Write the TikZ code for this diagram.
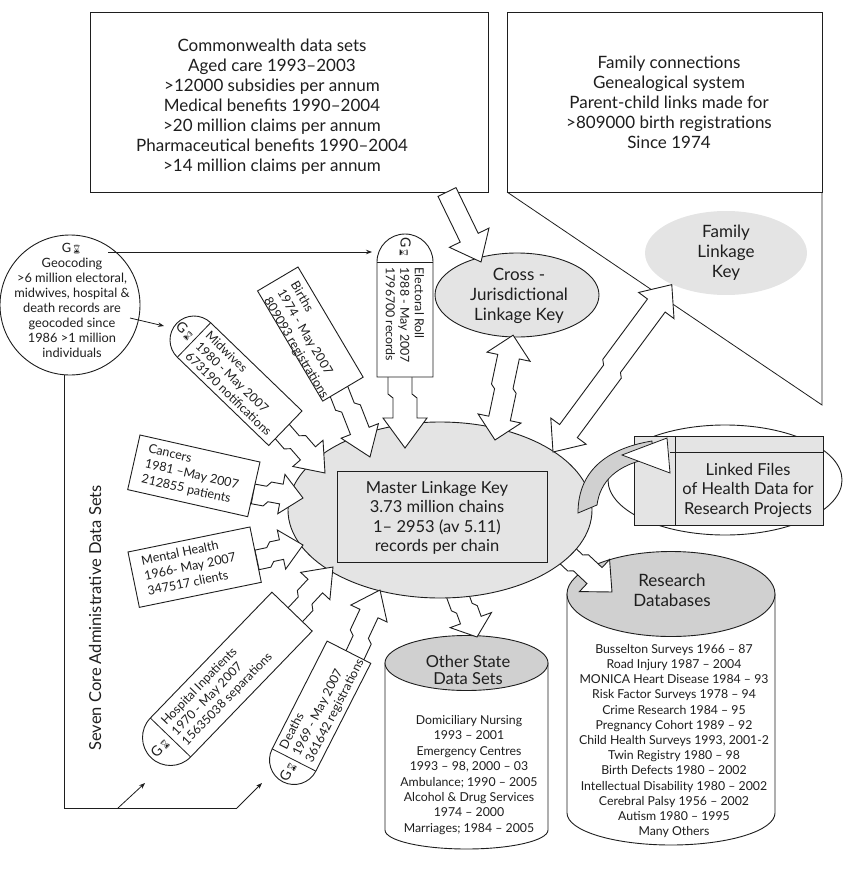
\documentclass[tikz,border=0pt]{standalone}
\usepackage{fontspec}
\setmainfont{Lato}
\newfontfamily\emojifont{Noto Emoji}
\usetikzlibrary{arrows.meta,shapes.geometric}
\definecolor{ink}{HTML}{1E1E1E}
\definecolor{lgray}{HTML}{E4E4E4}
\definecolor{mgray}{HTML}{D0D0D0}
\newcommand\hg{{\emojifont\fontsize{8.5}{8.5}\selectfont ⌛}}
% fat hollow arrow from coordinate #1 to coordinate #2
% #3 half shaft, #4 half head, #5 head length, #6 jog position, #7 jog offset
\newcommand\fatarrow[7]{%
  \pgfmathanglebetweenpoints{\pgfpointanchor{#1}{center}}{\pgfpointanchor{#2}{center}}%
  \let\FAang\pgfmathresult
  \pgfpointdiff{\pgfpointanchor{#1}{center}}{\pgfpointanchor{#2}{center}}%
  \pgfgetlastxy\FAdx\FAdy
  \pgfmathsetmacro\FAL{veclen(\FAdx,\FAdy)}%
  \begin{scope}[shift={(#1)}, rotate=\FAang]
    \draw[fatst] (0,#3-#7) -- (#6,#3-#7) -- (#6+4,#3) -- (\FAL-#5,#3) -- (\FAL-#5,#4)
      -- (\FAL,0) -- (\FAL-#5,-#4) -- (\FAL-#5,-#3) -- (#6+4,-#3) -- (#6,-#3-#7)
      -- (0,-#3-#7) -- cycle;
  \end{scope}}
% double-headed fat arrow
\newcommand\fatdarrow[7]{%
  \pgfmathanglebetweenpoints{\pgfpointanchor{#1}{center}}{\pgfpointanchor{#2}{center}}%
  \let\FAang\pgfmathresult
  \pgfpointdiff{\pgfpointanchor{#1}{center}}{\pgfpointanchor{#2}{center}}%
  \pgfgetlastxy\FAdx\FAdy
  \pgfmathsetmacro\FAL{veclen(\FAdx,\FAdy)}%
  \begin{scope}[shift={(#1)}, rotate=\FAang]
    \draw[fatst] (0,0) -- (#5,#4) -- (#5,#3) -- (#6,#3) -- (#6+4,#3+#7) -- (\FAL-#5,#3+#7)
      -- (\FAL-#5,#4+#7) -- (\FAL,#7) -- (\FAL-#5,-#4+#7) -- (\FAL-#5,-#3+#7)
      -- (#6+4,-#3+#7) -- (#6,-#3) -- (#5,-#3) -- (#5,-#4) -- cycle;
  \end{scope}}
% pill: name, x, y (separator middle), angle, length, radius, text
\newcommand\pill[7]{%
  \begin{scope}[shift={(#2,-#3)}, rotate=#4]
    \draw[boxst] (0,#6) -- (#5,#6) -- (#5,-#6) -- (0,-#6)
      arc[start angle=-90, end angle=-270, radius=#6] -- cycle;
    \draw[thinl] (0,#6) -- (0,-#6);
    \node[gsym, rotate=#4] (#1G) at (-0.5*#6,0) {G\hg};
    \node[pilltxt, rotate=#4, anchor=west] (#1T) at (5,0) {#7};
  \end{scope}}
% rotated box: name, x, y (top-left corner), angle, length, width, text
\newcommand\rbox[7]{%
  \begin{scope}[shift={(#2,-#3)}, rotate=#4]
    \draw[boxst] (0,0) rectangle (#5,-#6);
    \node[boxtxt, rotate=#4, anchor=north west] (#1T) at (11,-6) {#7};
  \end{scope}}
\begin{document}
\begin{tikzpicture}[x=1pt, y=1pt, line width=0.9pt,
  boxst/.style={draw=ink, fill=white, line width=0.9pt},
  fatst/.style={draw=ink, fill=white, line width=0.9pt, line join=miter},
  thinl/.style={draw=ink, line width=0.8pt},
  tipst/.style={-{Stealth[length=6pt,width=4.5pt]}},
  bigtxt/.style={font=\fontsize{17}{20}\selectfont, align=center, text=ink, inner sep=0pt},
  midtxt/.style={font=\fontsize{16.5}{19.5}\selectfont, align=center, text=ink, inner sep=0pt},
  geotxt/.style={font=\fontsize{12.8}{15}\selectfont, align=center, text=ink, inner sep=0pt},
  smtxt/.style={font=\fontsize{12.3}{15.4}\selectfont, align=center, text=ink, inner sep=0pt},
  rstxt/.style={font=\fontsize{12.3}{15.2}\selectfont, align=center, text=ink, inner sep=0pt},
  boxtxt/.style={font=\fontsize{12.5}{15.5}\selectfont, align=left, text=ink, inner sep=0pt},
  pilltxt/.style={font=\fontsize{12.4}{14.5}\selectfont, align=left, text=ink, inner sep=0pt},
  gsym/.style={font=\fontsize{14}{14}\selectfont, text=ink, inner sep=0pt}]
\useasboundingbox (0,0) rectangle (850,-872);

% ---------- top callouts ----------
\node[draw=ink, fill=white, minimum width=398pt, minimum height=180pt, inner sep=0pt] (cw) at (289,-102) {};
\node[bigtxt] (cwT) at (272,-107) {Commonwealth data sets\\Aged care 1993–2003\\>12000 subsidies per annum\\Medical benefits 1990–2004\\>20 million claims per annum\\Pharmaceutical benefits 1990–2004\\>14 million claims per annum};

\node[draw=ink, fill=white, minimum width=315pt, minimum height=180pt, inner sep=0pt] (fam) at (664.5,-102) {};
\coordinate (famA) at (507,-192);
\coordinate (famB) at (822,-405);
\coordinate (famC) at (822,-192);
\draw[thinl] (famA) -- (famB) -- (famC);
\node[bigtxt] (famT) at (669,-102) {Family connections\\Genealogical system\\Parent-child links made for\\>809000 birth registrations\\Since 1974};

% ---------- keys ----------
\node[ellipse, fill=lgray, minimum width=162pt, minimum height=84pt, inner sep=0pt] (flk) at (726,-253) {};
\node[bigtxt] (flkT) at (726,-253) {Family\\Linkage\\Key};
\node[ellipse, draw=ink, fill=lgray, minimum width=164pt, minimum height=84pt, inner sep=0pt] (cjk) at (517,-295) {};
\node[bigtxt] (cjkT) at (519,-296) {Cross -\\Jurisdictional\\Linkage Key};

\coordinate (cwA) at (447,-192);
\coordinate (cjkIn) at (481,-262);
\fatarrow{cwA}{cjkIn}{10}{22}{27}{20}{0}

% ---------- geocoding ----------
\node[circle, draw=ink, fill=white, minimum size=140pt, inner sep=0pt] (geo) at (70,-305) {};
\node[geotxt] (geoT) at (72,-300) {G\hg\\Geocoding\\>6 million electoral,\\midwives, hospital \&\\death records are\\geocoded since\\1986 >1 million\\individuals};
\node[font=\fontsize{16.5}{16.5}\selectfont, text=ink, rotate=90, inner sep=0pt] (seven) at (95,-618) {Seven Core Administrative Data Sets};

% ---------- linked files ----------
\node[ellipse, draw=ink, minimum width=234pt, minimum height=110pt, inner sep=0pt] (lfe) at (725,-480) {};
\node[draw=ink, fill=lgray, minimum width=189pt, minimum height=89pt, inner sep=0pt] (lfr) at (728.5,-480.5) {};
\coordinate (lfv1) at (675,-436);
\coordinate (lfv2) at (675,-525);
\coordinate (lfh1) at (670,-452);
\coordinate (lfh2) at (823,-452);
\draw[thinl] (lfv1) -- (lfv2);
\draw[thinl] (lfh1) -- (lfh2);
\node[midtxt] (lfT) at (748,-490) {Linked Files\\of Health Data for\\Research Projects};

% ---------- cylinders ----------
\draw[boxst] (385,-663) -- (385,-830) arc[start angle=180, end angle=360, x radius=81.5, y radius=19] -- (548,-663) -- cycle;
\node[ellipse, draw=ink, fill=mgray, minimum width=163pt, minimum height=55pt, inner sep=0pt] (osd) at (466.5,-663) {};
\node[midtxt, font=\fontsize{16.5}{17.5}\selectfont] (osdT) at (468,-670) {Other State\\Data Sets};
\node[smtxt] (osdL) at (469,-775) {Domiciliary Nursing\\1993 – 2001\\Emergency Centres\\1993 – 98, 2000 – 03\\Ambulance; 1990 – 2005\\Alcohol \& Drug Services\\1974 – 2000\\Marriages; 1984 – 2005};

\draw[boxst] (567,-594) -- (567,-813) arc[start angle=180, end angle=360, x radius=104, y radius=32] -- (775,-594) -- cycle;
\node[ellipse, draw=ink, fill=mgray, minimum width=208pt, minimum height=85pt, inner sep=0pt] (rdb) at (671,-594) {};
\node[bigtxt] (rdbT) at (672,-590) {Research\\Databases};
\node[rstxt] (rdbL) at (674,-741) {Busselton Surveys 1966 – 87\\Road Injury 1987 – 2004\\MONICA Heart Disease 1984 – 93\\Risk Factor Surveys 1978 – 94\\Crime Research 1984 – 95\\Pregnancy Cohort 1989 – 92\\Child Health Surveys 1993, 2001-2\\Twin Registry 1980 – 98\\Birth Defects 1980 – 2002\\Intellectual Disability 1980 – 2002\\Cerebral Palsy 1956 – 2002\\Autism 1980 – 1995\\Many Others};

% ---------- outgoing arrows (under master) ----------
\coordinate (oA) at (458,-585);
\coordinate (oT) at (477,-637);
\fatarrow{oA}{oT}{11}{22}{18}{22}{4}
\coordinate (rA) at (562,-545);
\coordinate (rT) at (612,-592);
\fatarrow{rA}{rT}{11}{22}{24}{22}{4}

% ---------- master linkage key ----------
\node[ellipse, draw=ink, fill=lgray, minimum width=304pt, minimum height=176pt, inner sep=0pt] (mlk) at (440,-510) {};
\node[draw=ink, fill=lgray, minimum width=210pt, minimum height=91pt, inner sep=0pt] (mlkR) at (442,-516.5) {};
\node[midtxt] (mlkT) at (437,-518) {Master Linkage Key\\3.73 million chains\\1– 2953 (av 5.11)\\records per chain};

% curved arrow to linked files
\draw[thinl, fill=mgray] (578,-513) .. controls (578,-478) and (598,-450) .. (652,-441)
  -- (653,-458) .. controls (616,-464) and (600,-482) .. (597,-505) -- cycle;
\draw[thinl, fill=white, line join=miter] (622,-455) -- (667,-438) -- (670,-473) -- cycle;

% double arrows
\coordinate (x1) at (495,-440);
\coordinate (x2) at (517,-336);
\fatdarrow{x1}{x2}{11}{22}{22}{50}{4}
\coordinate (f1) at (553,-452);
\coordinate (f2) at (675,-287);
\fatdarrow{f1}{f2}{11}{22}{26}{100}{4}

% ---------- incoming arrows ----------
\coordinate (eA) at (405,-376);
\coordinate (eT) at (405,-448);
\fatarrow{eA}{eT}{12}{22}{30}{18}{5}
\coordinate (bA) at (343,-388);
\coordinate (bT) at (370,-457);
\fatarrow{bA}{bT}{10}{20}{28}{18}{5}
\coordinate (mA) at (285,-427);
\coordinate (mT) at (325,-473);
\fatarrow{mA}{mT}{10}{20}{26}{16}{5}
\coordinate (cA) at (254,-489);
\coordinate (cT) at (303,-498);
\fatarrow{cA}{cT}{10}{20}{22}{12}{5}
\coordinate (hA) at (256,-555);
\coordinate (hT) at (303,-545);
\fatarrow{hA}{hT}{10}{20}{22}{12}{5}
\coordinate (iA) at (291,-612);
\coordinate (iT) at (333,-567);
\fatarrow{iA}{iT}{10}{20}{26}{16}{5}
\coordinate (dA) at (350,-654);
\coordinate (dT) at (380,-590);
\fatarrow{dA}{dT}{10}{20}{26}{18}{5}

% ---------- sources ----------
\pill{el}{405}{262}{-90}{115}{28}{Electoral Roll\\1988 - May 2007\\1796700 records}
\pill{mw}{194}{340}{-44}{127}{24}{Midwives\\1980 - May 2007\\673190 notifications}
\pill{hi}{170.5}{737.5}{46}{175}{28}{Hospital Inpatients\\1970 - May 2007\\15635038 separations}
\pill{de}{294}{760}{63}{121}{24.5}{Deaths\\1969 - May 2007\\361642 registrations}
\rbox{bi}{298}{267}{-59.4}{128}{47}{Births\\1974 - May 2007\\809093 registrations}
\rbox{ca}{140}{435}{-12.7}{123}{56}{Cancers\\1981 –May 2007\\212855 patients}
\rbox{mh}{128}{552}{11.6}{124.5}{56.5}{Mental Health\\1966- May 2007\\347517 clients}

% ---------- thin connectors from geocoding ----------
\coordinate (g1) at (108,-252);
\coordinate (elIn) at (372,-252);
\draw[thinl, tipst] (g1) -- (elIn);
\coordinate (g2) at (130,-318);
\coordinate (mwIn) at (164,-326);
\draw[thinl, tipst] (g2) -- (mwIn);
\coordinate (g3) at (64,-375);
\coordinate (g4) at (64,-808);
\coordinate (g5) at (237,-808);
\coordinate (deIn) at (262,-783);
\coordinate (g6) at (118,-808);
\coordinate (hiIn) at (145,-783);
\draw[thinl] (g3) -- (g4) -- (g5);
\draw[thinl, tipst] (g5) -- (deIn);
\draw[thinl, tipst] (g6) -- (hiIn);
\end{tikzpicture}
\end{document}
